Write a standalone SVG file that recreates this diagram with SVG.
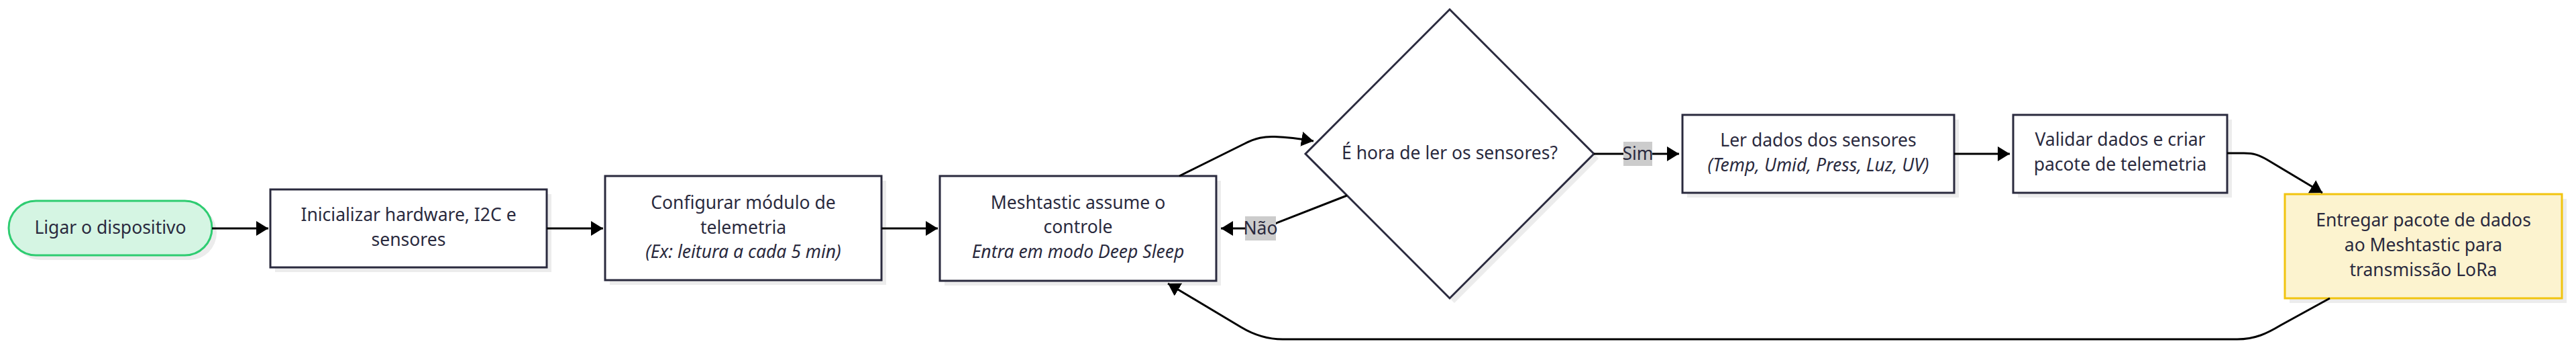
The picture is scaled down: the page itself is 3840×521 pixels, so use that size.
<svg xmlns="http://www.w3.org/2000/svg" width="3840" height="521" viewBox="0 0 3840 521">
<defs>
<style>
.shadow{fill:#ececec;stroke:none}
.box{fill:#ffffff;stroke:#2a2a3e;stroke-width:3}
.start{fill:#d5f5e3;stroke:#2ecc71;stroke-width:3}
.deliver{fill:#fcf3cf;stroke:#f1c40f;stroke-width:3}
.t{font-family:"Noto Sans","Open Sans","Liberation Sans",sans-serif;font-size:26.5px;fill:#2a2a3e;text-anchor:middle}
.i{font-style:italic}
.edge{fill:none;stroke:#000000;stroke-width:3}
.lbl{fill:#cccccc}
</style>
<marker id="arr" markerUnits="userSpaceOnUse" markerWidth="18" markerHeight="22" refX="18" refY="11" orient="auto" viewBox="0 0 18 22">
<path d="M0,0 L18,11 L0,22 z" fill="#000000"/>
</marker>
</defs>
<rect width="3840" height="521" fill="#ffffff"/>

<g id="start">
<rect class="shadow" x="20" y="306" width="303" height="81" rx="40.5"/>
<rect class="start" x="13" y="299" width="303" height="81" rx="40.5"/>
<text class="t" x="164.5" y="348">Ligar o dispositivo</text>
</g>

<g id="init">
<rect class="shadow" x="410" y="289" width="412" height="116"/>
<rect class="box" x="403" y="282" width="412" height="116"/>
<text class="t" x="609" y="329">Inicializar hardware, I2C e</text>
<text class="t" x="609" y="366">sensores</text>
</g>

<g id="config">
<rect class="shadow" x="909" y="269" width="412" height="155"/>
<rect class="box" x="902" y="262" width="412" height="155"/>
<text class="t" x="1108" y="311">Configurar módulo de</text>
<text class="t" x="1108" y="348">telemetria</text>
<text class="t i" x="1108" y="384">(Ex: leitura a cada 5 min)</text>
</g>

<g id="sleep">
<rect class="shadow" x="1408" y="269" width="412" height="156"/>
<rect class="box" x="1401" y="262" width="412" height="156"/>
<text class="t" x="1607" y="311">Meshtastic assume o</text>
<text class="t" x="1607" y="347">controle</text>
<text class="t i" x="1607" y="384">Entra em modo Deep Sleep</text>
</g>

<g id="decision">
<polygon class="shadow" points="2168,21 2383,236 2168,451 1953,236"/>
<polygon class="box" points="2161,14 2376,229 2161,444 1946,229"/>
<text class="t" x="2161" y="237">É hora de ler os sensores?</text>
</g>

<g id="read">
<rect class="shadow" x="2515" y="178" width="405" height="116"/>
<rect class="box" x="2508" y="171" width="405" height="116"/>
<text class="t" x="2710.5" y="218">Ler dados dos sensores</text>
<text class="t i" x="2710.5" y="255">(Temp, Umid, Press, Luz, UV)</text>
</g>

<g id="validate">
<rect class="shadow" x="3008" y="178" width="319" height="116"/>
<rect class="box" x="3001" y="171" width="319" height="116"/>
<text class="t" x="3160.5" y="217">Validar dados e criar</text>
<text class="t" x="3160.5" y="254">pacote de telemetria</text>
</g>

<g id="deliver">
<rect class="shadow" x="3413" y="296" width="413" height="155"/>
<rect class="deliver" x="3406" y="289" width="413" height="155"/>
<text class="t" x="3612.5" y="337">Entregar pacote de dados</text>
<text class="t" x="3612.5" y="374">ao Meshtastic para</text>
<text class="t" x="3612.5" y="411">transmissão LoRa</text>
</g>

<g id="connectors">
<path class="edge" marker-end="url(#arr)" d="M316,340 L400,340"/>
<path class="edge" marker-end="url(#arr)" d="M815,340 L899,340"/>
<path class="edge" marker-end="url(#arr)" d="M1314,340 L1398,340"/>
<path class="edge" marker-end="url(#arr)" d="M1758,262 L1855,214 C1872,205 1885,203 1900,203.5 C1915,204 1935,206 1958,210"/>
<path class="edge" marker-end="url(#arr)" d="M2008,291 L1905,331 C1895,336 1888,340 1875,340 L1820,340"/>
<path class="edge" marker-end="url(#arr)" d="M2376,229 L2503,229"/>
<path class="edge" marker-end="url(#arr)" d="M2913,229 L2996,229"/>
<path class="edge" marker-end="url(#arr)" d="M3320,228 L3345,228 C3360,228 3368,231 3380,238 L3462,287"/>
<path class="edge" marker-end="url(#arr)" d="M3473,444 L3400,484 C3380,496 3362,505 3335,505 L1912,505 C1890,505 1870,499 1850,487 L1741,422"/>
<rect class="lbl" x="1856" y="322" width="46" height="36"/>
<text class="t" x="1879" y="349">Não</text>
<rect class="lbl" x="2420" y="211" width="43" height="36"/>
<text class="t" x="2441.5" y="238">Sim</text>
</g>
</svg>
